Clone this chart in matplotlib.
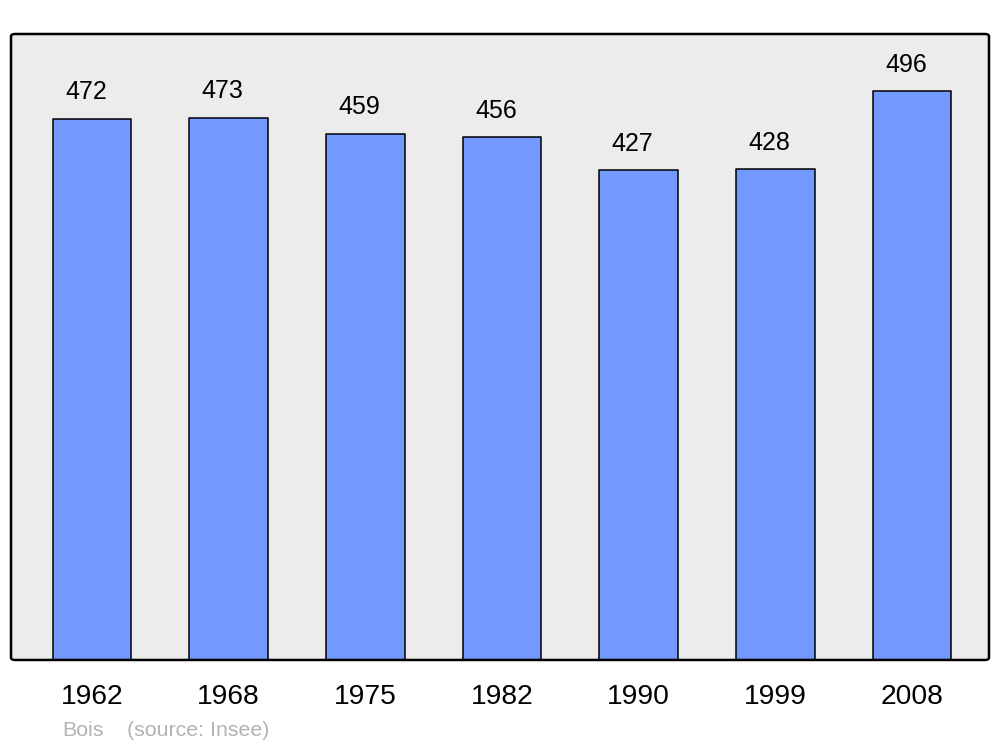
import matplotlib
matplotlib.use("Agg")
import matplotlib.pyplot as plt
from matplotlib.patches import FancyBboxPatch

years = ["1962", "1968", "1975", "1982", "1990", "1999", "2008"]
population = [472, 473, 459, 456, 427, 428, 496]
commune = "Bois"
source = "(source: Insee)"

plt.rcParams['font.family'] = ['Liberation Sans', 'DejaVu Sans']

fig = plt.figure(figsize=(10, 7.47), dpi=100)
ax = fig.add_axes([0.011, 0.1165, 0.978, 0.838])
ax.set_facecolor('#ececec')

x = list(range(len(years)))
bars = ax.bar(x, population, width=0.575, color='#7399ff', edgecolor='black',
              linewidth=1.1, zorder=3)
for b in bars:
    b.set_joinstyle('round')

for xi, v in zip(x, population):
    ax.annotate(str(v), (xi, v), xytext=(-4.5, 10.5), textcoords='offset points',
                ha='center', va='bottom', fontsize=18, color='black')

ax.set_xlim(-0.593, 6.563)
ax.set_ylim(0, 546)
ax.set_xticks(x)
ax.set_xticklabels(years, fontsize=20.3)
ax.tick_params(axis='x', length=0, pad=17)
ax.set_yticks([])
for s in ax.spines.values():
    s.set_visible(False)

frame = FancyBboxPatch((0, 0), 1, 1, boxstyle='round,pad=0,rounding_size=0.004',
                       transform=ax.transAxes, facecolor='none', edgecolor='black',
                       linewidth=1.8, zorder=10, clip_on=False)
ax.add_patch(frame)

fig.text(0.062, 1 - 731 / 747, commune, fontsize=15.4, color='#b3b3b3', ha='left', va='center')
fig.text(0.127, 1 - 731 / 747, source, fontsize=15.4, color='#b3b3b3', ha='left', va='center')

fig.savefig('out.png', dpi=100)
